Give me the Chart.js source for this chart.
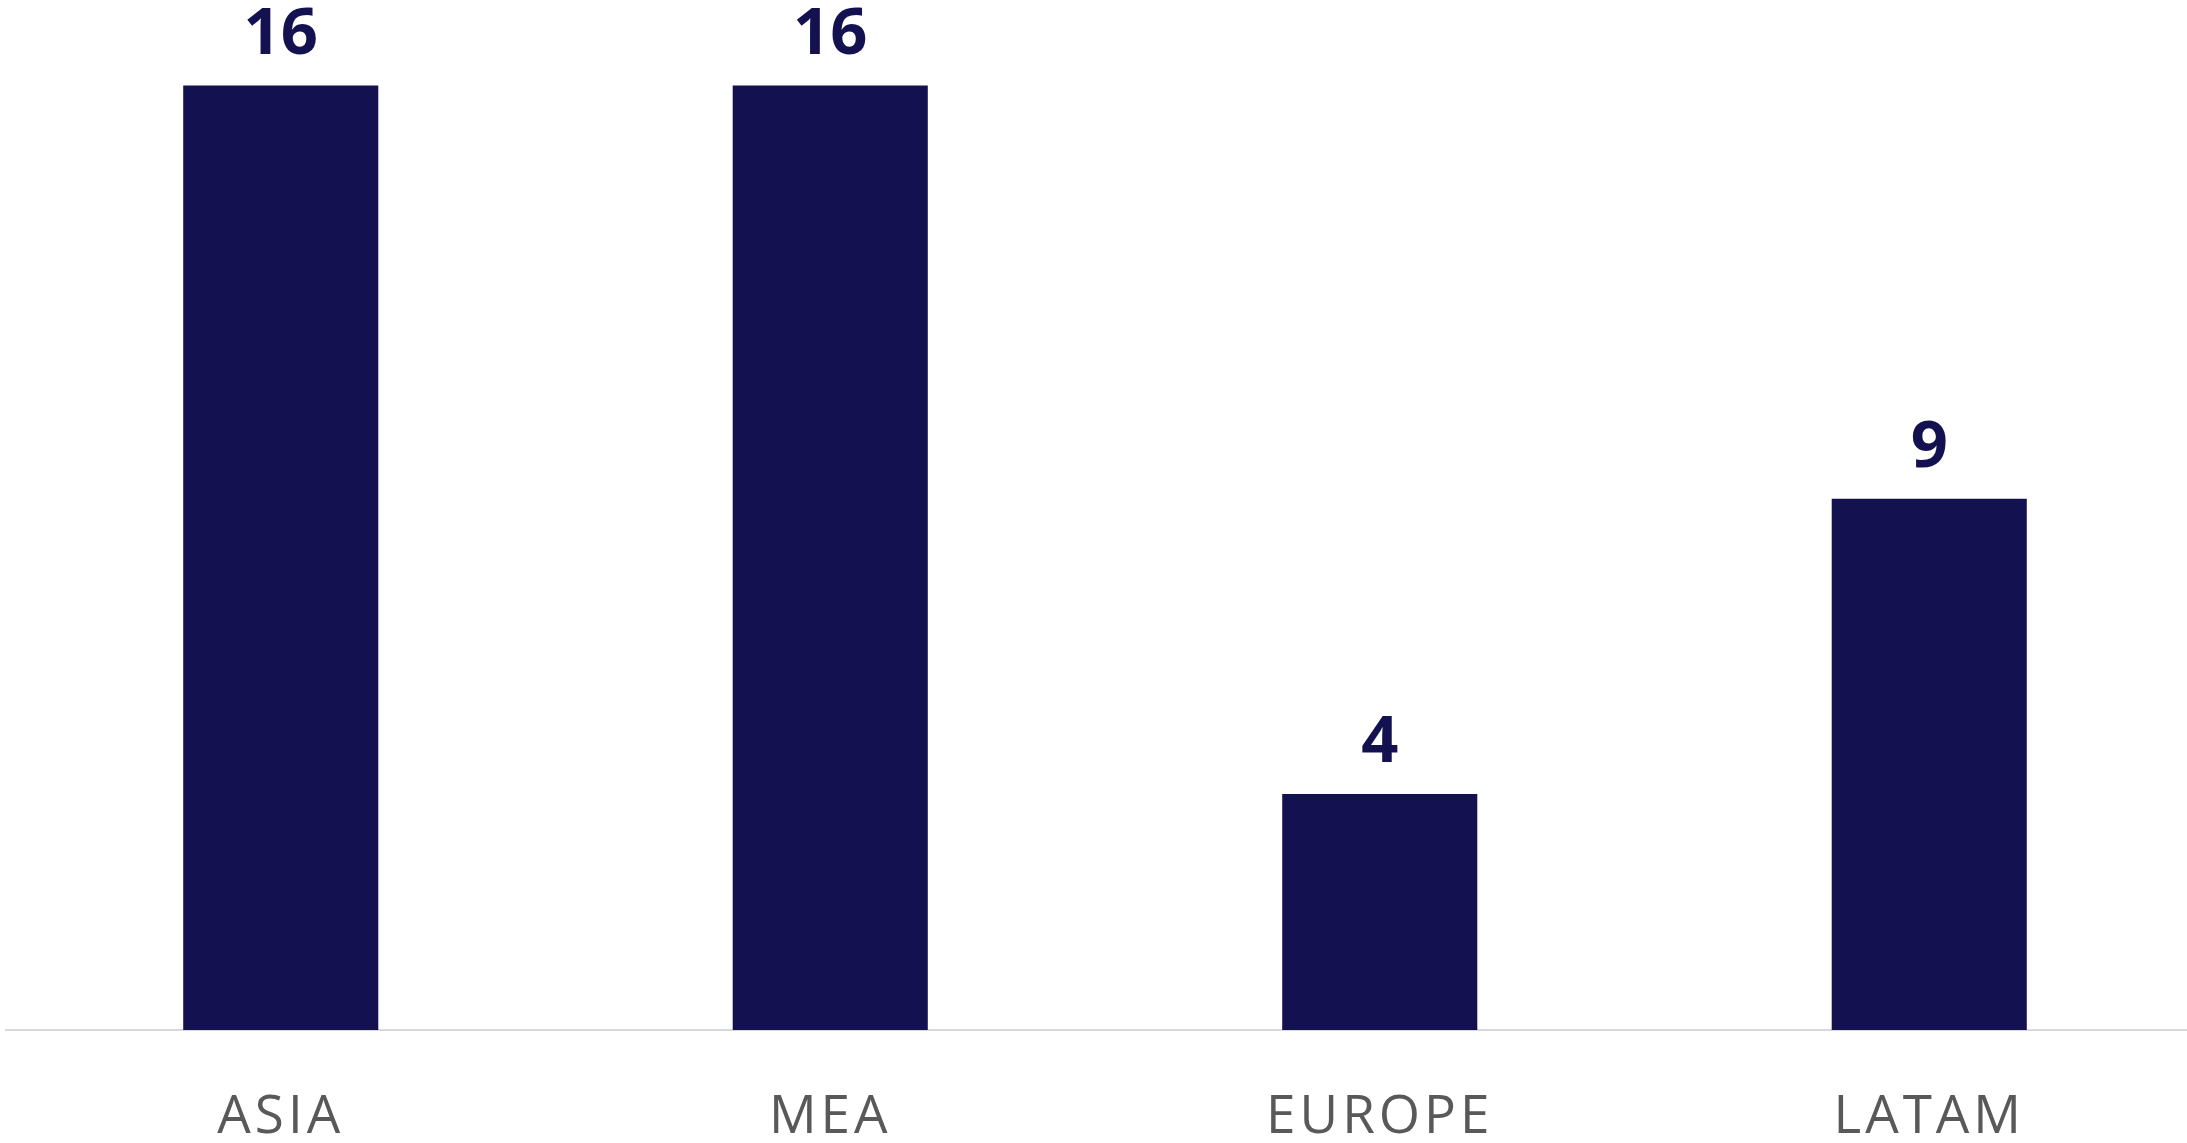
<!DOCTYPE html>
<html>
<head>
<meta charset="utf-8">
<script src="https://cdn.jsdelivr.net/npm/chart.js@4/dist/chart.umd.min.js"></script>
<style>
  html, body { margin: 0; padding: 0; background: #fff; overflow: hidden; }
  #wrap { width: 2187px; height: 1143px; overflow: hidden; }
</style>
</head>
<body>
<div id="wrap"><canvas id="barChart" width="2204" height="1143"></canvas></div>
<script>
const regions = ['ASIA', 'MEA', 'EUROPE', 'LATAM'];
const counts = [16, 16, 4, 9];

const barColor = '#13114F';

// a little letter spacing for the category labels
const spacing = {
  id: 'spacing',
  beforeDraw(chart) { chart.ctx.letterSpacing = '4px'; }
};

// value labels above each bar
const valueLabels = {
  id: 'valueLabels',
  afterDatasetsDraw(chart) {
    const ctx = chart.ctx;
    const meta = chart.getDatasetMeta(0);
    ctx.save();
    ctx.letterSpacing = '0px';
    ctx.fillStyle = barColor;
    ctx.font = 'bold 65px "Open Sans"';
    ctx.textAlign = 'center';
    ctx.textBaseline = 'alphabetic';
    meta.data.forEach((bar, i) => {
      ctx.fillText(String(counts[i]), bar.x, bar.y - 32);
    });
    ctx.restore();
  }
};

const ctx = document.getElementById('barChart').getContext('2d');
new Chart(ctx, {
  type: 'bar',
  data: {
    labels: regions,
    datasets: [{
      data: counts,
      backgroundColor: barColor,
      barPercentage: 0.355,
      categoryPercentage: 1
    }]
  },
  options: {
    responsive: false,
    animation: false,
    layout: { padding: { left: 6, right: 0, top: 0, bottom: 0 } },
    plugins: { legend: { display: false }, tooltip: { enabled: false } },
    scales: {
      x: {
        grid: { display: false, drawTicks: false },
        border: { display: true, color: '#D9D9D9', width: 2 },
        ticks: {
          color: '#595959',
          font: { family: '"Open Sans"', size: 53 },
          padding: 56
        },
        afterFit(scale) { scale.height = 113; }
      },
      y: {
        display: false,
        min: 0,
        max: 17.45
      }
    }
  },
  plugins: [spacing, valueLabels]
});
</script>
</body>
</html>
